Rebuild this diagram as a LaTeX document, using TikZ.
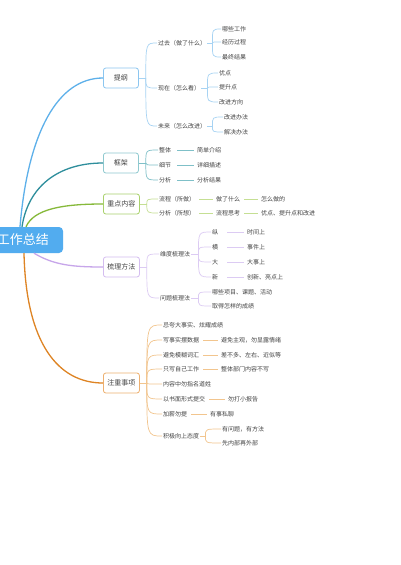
\documentclass[tikz,border=0pt]{standalone}
\usepackage{fontspec}
\setmainfont{Noto Sans CJK SC}
\definecolor{txt}{HTML}{444444}
\definecolor{rootc}{HTML}{52ACEF}
\definecolor{cbm}{HTML}{5DB0EA}\definecolor{cbb}{HTML}{8CC6F0}\definecolor{cbs}{HTML}{A7D3F3}
\definecolor{ctm}{HTML}{2E8E9C}\definecolor{ctb}{HTML}{8FC9CF}\definecolor{cts}{HTML}{7FC0C8}
\definecolor{cgm}{HTML}{86B93A}\definecolor{cgb}{HTML}{A9D16C}\definecolor{cgs}{HTML}{C5DF93}
\definecolor{cpm}{HTML}{C7A6EA}\definecolor{cpb}{HTML}{D4BDF0}\definecolor{cps}{HTML}{DCCBF3}
\definecolor{com}{HTML}{DE8424}\definecolor{cob}{HTML}{EDB070}\definecolor{cos}{HTML}{F2C58E}
\newcommand\brc[3]{\draw[#1] (#2) .. controls (#2 |- #3.west) .. (#3.west);}
\newcommand\lnk[4]{\draw[#1] ([xshift=#4]#2.east) -- ([xshift=-2.5pt]#3.west);}
\tikzset{
  lbl/.style={font=\fontsize{6}{7}\selectfont, text=txt, inner sep=1pt, anchor=west},
  brbox/.style={draw=#1, rounded corners=2.5pt, fill=white, font=\fontsize{7}{8}\selectfont,
    text=txt, minimum width=35pt, minimum height=20pt, inner xsep=4pt, anchor=west, line width=0.8pt},
  mainln/.style={draw=#1, line width=1.3pt},
  subln/.style={draw=#1, line width=0.7pt},
}
\begin{document}
\begin{tikzpicture}[x=1pt,y=-1pt]
\useasboundingbox (0,0) rectangle (400,565);
\fill[white] (0,0) rectangle (400,565);
% root
\node[fill=rootc, rounded corners=4pt, text=white, font=\fontsize{13}{14}\selectfont,
  minimum height=26pt, inner xsep=14pt] (root) at (23,240) {工作总结};
% branch boxes
\node[brbox=cbb] (tg) at (103,78) {提纲};
\node[brbox=ctb] (kj) at (103,163) {框架};
\node[brbox=cgb] (zd) at (103,204) {重点内容};
\node[brbox=cpb] (sl) at (103,267) {梳理方法};
\node[brbox=cob] (zy) at (103,383) {注重事项};
% main curves
\draw[mainln=cbm] ([xshift=-3pt]root.north) .. controls +(8,-95) and +(-45,0) .. (tg.west);
\draw[mainln=ctm] ([xshift=-1pt]root.north) .. controls +(6,-40) and +(-45,0) .. (kj.west);
\draw[mainln=cgm] ([xshift=3pt]root.north) .. controls +(8,-18) and +(-40,0) .. (zd.west);
\draw[mainln=cpm] ([xshift=11pt]root.south) .. controls +(20,12) and +(-30,0) .. (sl.west);
\draw[mainln=com] ([xshift=1pt]root.south) .. controls +(2,90) and +(-45,0) .. (zy.west);

% ---- 提纲
\node[lbl] (tg1) at (157,43) {过去（做了什么）};
\node[lbl] (tg2) at (157,88) {现在（怎么看）};
\node[lbl] (tg3) at (157,126) {未来（怎么改进）};
\node[lbl] (tg11) at (221,29) {哪些工作};
\node[lbl] (tg12) at (221,42) {经历过程};
\node[lbl] (tg13) at (221,57) {最终结果};
\node[lbl] (tg21) at (218,73) {优点};
\node[lbl] (tg22) at (218,87) {提升点};
\node[lbl] (tg23) at (218,102) {改进方向};
\node[lbl] (tg31) at (223,117) {改进办法};
\node[lbl] (tg32) at (223,132) {解决办法};
\draw[subln=cbs] (tg.east) -- ++(7,0) coordinate (tgj);
\brc{subln=cbs}{tgj}{tg1}\brc{subln=cbs}{tgj}{tg2}\brc{subln=cbs}{tgj}{tg3}
\draw[subln=cbs] (tg1.east) -- ++(5,0) coordinate (tg1j);
\brc{subln=cbs}{tg1j}{tg11}\brc{subln=cbs}{tg1j}{tg12}\brc{subln=cbs}{tg1j}{tg13}
\draw[subln=cbs] (tg2.east) -- ++(6,0) coordinate (tg2j);
\brc{subln=cbs}{tg2j}{tg21}\brc{subln=cbs}{tg2j}{tg22}\brc{subln=cbs}{tg2j}{tg23}
\draw[subln=cbs] (tg3.east) -- ++(5,0) coordinate (tg3j);
\brc{subln=cbs}{tg3j}{tg31}\brc{subln=cbs}{tg3j}{tg32}

% ---- 框架
\node[lbl] (kj1) at (158,150) {整体};
\node[lbl] (kj2) at (158,165) {细节};
\node[lbl] (kj3) at (158,180) {分析};
\node[lbl] (kj1a) at (196,150) {简单介绍};
\node[lbl] (kj2a) at (196,165) {详细描述};
\node[lbl] (kj3a) at (196,180) {分析结果};
\draw[subln=cts] (kj.east) -- ++(7,0) coordinate (kjj);
\brc{subln=cts}{kjj}{kj1}\brc{subln=cts}{kjj}{kj2}\brc{subln=cts}{kjj}{kj3}
\lnk{subln=cts}{kj1}{kj1a}{5pt}\lnk{subln=cts}{kj2}{kj2a}{5pt}\lnk{subln=cts}{kj3}{kj3a}{5pt}

% ---- 重点内容
\node[lbl] (zd1) at (158,199) {流程（所做）};
\node[lbl] (zd2) at (158,213) {分析（所想）};
\node[lbl] (zd1a) at (215,199) {做了什么};
\node[lbl] (zd2a) at (215,213) {流程思考};
\node[lbl] (zd1b) at (260,199) {怎么做的};
\node[lbl] (zd2b) at (260,213) {优点、提升点和改进};
\draw[subln=cgs] (zd.east) -- ++(7,0) coordinate (zdj);
\brc{subln=cgs}{zdj}{zd1}\brc{subln=cgs}{zdj}{zd2}
\lnk{subln=cgs}{zd1}{zd1a}{3pt}\lnk{subln=cgs}{zd2}{zd2a}{3pt}
\lnk{subln=cgs}{zd1a}{zd1b}{3pt}\lnk{subln=cgs}{zd2a}{zd2b}{3pt}

% ---- 梳理方法
\node[lbl] (sl1) at (159,254) {维度梳理法};
\node[lbl] (sl2) at (159,298) {问题梳理法};
\node[lbl] (sl11) at (211,232) {纵};
\node[lbl] (sl12) at (211,247) {横};
\node[lbl] (sl13) at (211,262) {大};
\node[lbl] (sl14) at (211,277) {新};
\node[lbl] (sl11a) at (246,232) {时间上};
\node[lbl] (sl12a) at (246,247) {事件上};
\node[lbl] (sl13a) at (246,262) {大事上};
\node[lbl] (sl14a) at (246,277) {创新、亮点上};
\node[lbl] (sl21) at (211,292) {哪些项目、课题、活动};
\node[lbl] (sl22) at (211,306) {取得怎样的成绩};
\draw[subln=cps] (sl.east) -- ++(7,0) coordinate (slj);
\brc{subln=cps}{slj}{sl1}\brc{subln=cps}{slj}{sl2}
\draw[subln=cps] (sl1.east) -- ++(7,0) coordinate (sl1j);
\brc{subln=cps}{sl1j}{sl11}\brc{subln=cps}{sl1j}{sl12}\brc{subln=cps}{sl1j}{sl13}\brc{subln=cps}{sl1j}{sl14}
\draw[subln=cps] (sl2.east) -- ++(7,0) coordinate (sl2j);
\brc{subln=cps}{sl2j}{sl21}\brc{subln=cps}{sl2j}{sl22}
\lnk{subln=cps}{sl11}{sl11a}{8pt}\lnk{subln=cps}{sl12}{sl12a}{8pt}
\lnk{subln=cps}{sl13}{sl13a}{8pt}\lnk{subln=cps}{sl14}{sl14a}{8pt}

% ---- 注重事项
\node[lbl] (zy1) at (162,325) {忌夸大事实、炫耀成绩};
\node[lbl] (zy2) at (162,340) {写事实摆数据};
\node[lbl] (zy3) at (162,355) {避免模糊词汇};
\node[lbl] (zy4) at (162,369) {只写自己工作};
\node[lbl] (zy5) at (162,384) {内容中勿指名道姓};
\node[lbl] (zy6) at (162,399) {以书面形式提交};
\node[lbl] (zy7) at (162,414) {加薪勿提};
\node[lbl] (zy8) at (162,436) {积极向上态度};
\node[lbl] (zy2a) at (220,340) {避免主观，勿显露情绪};
\node[lbl] (zy3a) at (220,355) {差不多、左右、近似等};
\node[lbl] (zy4a) at (220,369) {整体部门内容不写};
\node[lbl] (zy6a) at (227,399) {勿打小报告};
\node[lbl] (zy7a) at (209,414) {有事私聊};
\node[lbl] (zy81) at (221,429) {有问题，有方法};
\node[lbl] (zy82) at (221,443) {先内部再外部};
\draw[subln=cos] (zy.east) -- ++(7,0) coordinate (zyj);
\foreach \k in {1,...,8}{\brc{subln=cos}{zyj}{zy\k}}
\lnk{subln=cos}{zy2}{zy2a}{3pt}\lnk{subln=cos}{zy3}{zy3a}{3pt}\lnk{subln=cos}{zy4}{zy4a}{3pt}
\lnk{subln=cos}{zy6}{zy6a}{3pt}\lnk{subln=cos}{zy7}{zy7a}{3pt}
\draw[subln=cos] (zy8.east) -- ++(5,0) coordinate (zy8j);
\brc{subln=cos}{zy8j}{zy81}\brc{subln=cos}{zy8j}{zy82}
\end{tikzpicture}
\end{document}
